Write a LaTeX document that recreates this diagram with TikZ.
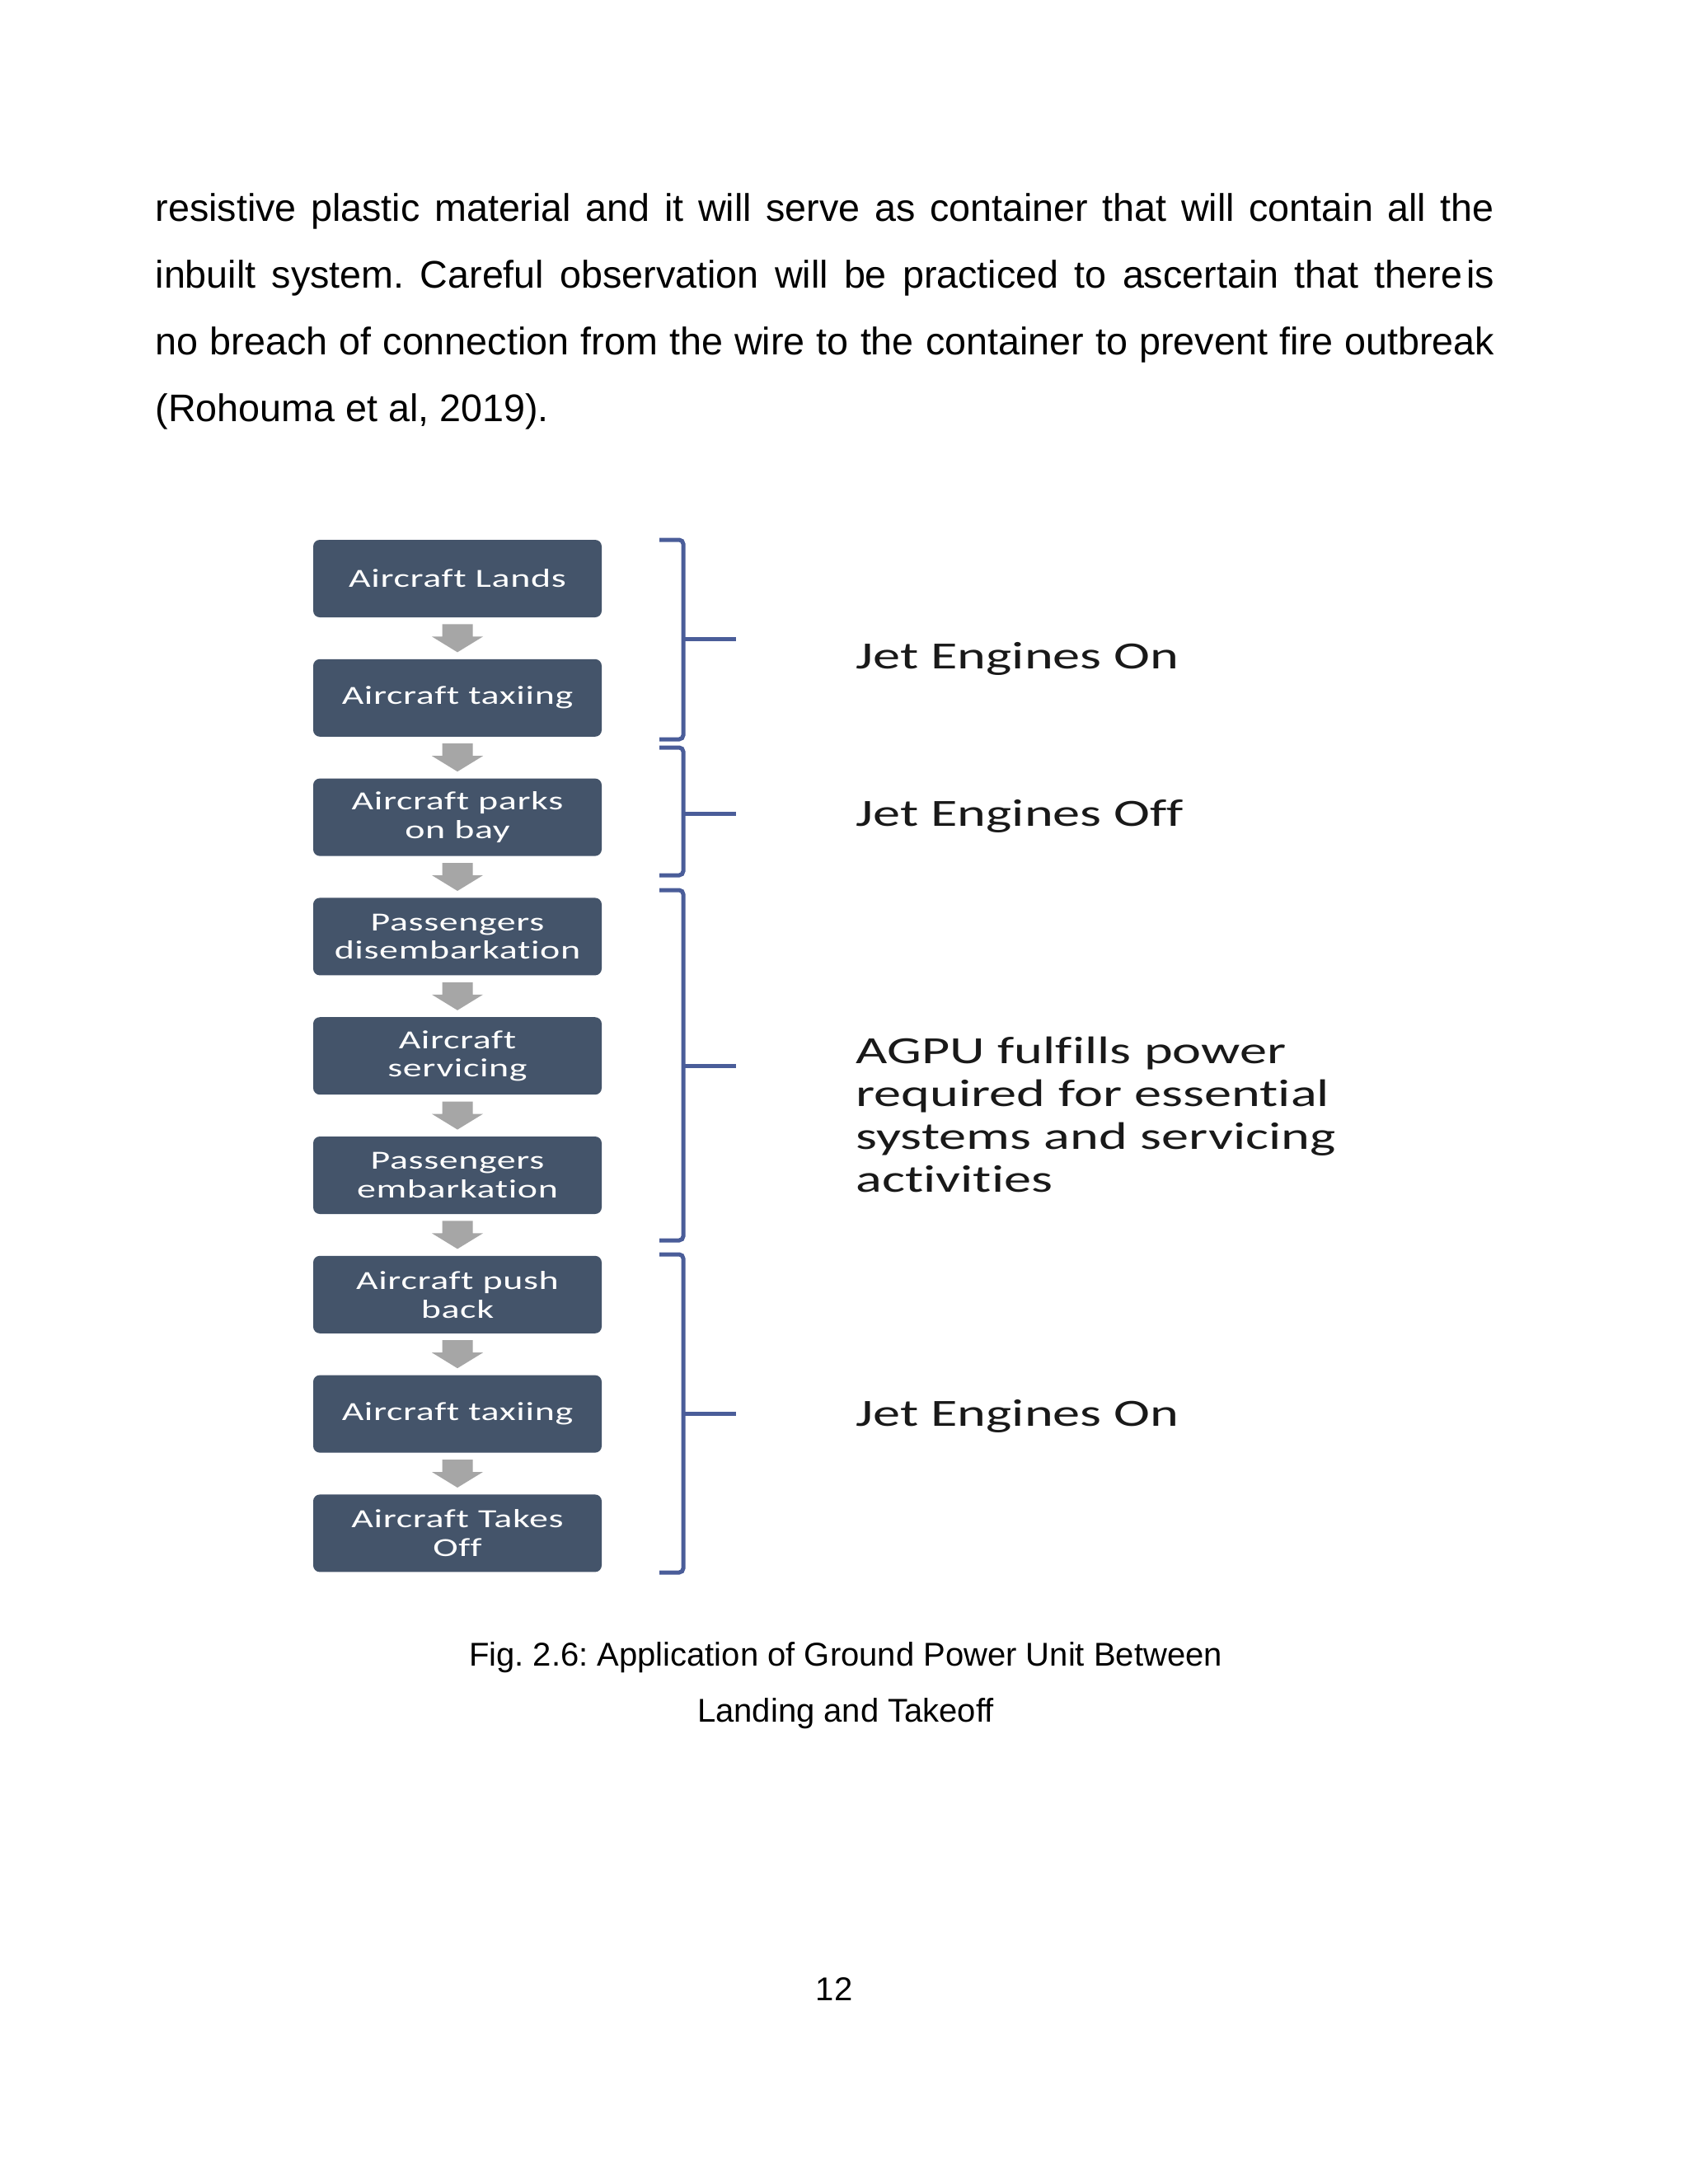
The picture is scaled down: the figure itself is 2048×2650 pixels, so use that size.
\documentclass[tikz,border=0pt]{standalone}
\usepackage{fontspec}
\setmainfont{Liberation Sans}
\newfontfamily\boxfont[FakeStretch=1.45,LetterSpace=2,Ligatures=NoCommon]{Carlito}
\newfontfamily\labfont[FakeStretch=1.42,Ligatures=NoCommon]{Carlito}
\usetikzlibrary{calc}
\definecolor{boxfill}{HTML}{44546A}
\definecolor{arrowgray}{HTML}{A6A6A6}
\definecolor{brackcol}{HTML}{4A5D99}
\def\pxu{0.010539cm}
\frenchspacing
\begin{document}
\begin{tikzpicture}[x=\pxu, y=-\pxu,
  stage/.style={rectangle, rounded corners=2.4pt, fill=boxfill, text=white,
    minimum width={350*\pxu}, minimum height={94*\pxu}, inner sep=0pt, align=center,
    font=\boxfont\fontsize{9.5}{10.4}\selectfont},
  brace/.style={draw=brackcol, line width=1.5pt, rounded corners=1.5pt},
  tick/.style={draw=brackcol, line width=1.5pt},
  phase/.style={anchor=base west, inner sep=0pt, font=\labfont\fontsize{14}{15.6}\selectfont, text=black!90},
  body/.style={anchor=base west, inner sep=0pt, font=\fontsize{14}{16}\selectfont},
  capt/.style={anchor=base, inner sep=0pt, font=\fontsize{12}{14}\selectfont}
]
\fill[white] (0,0) rectangle (2048,2650);
\useasboundingbox (0,0) rectangle (2048,2650);

% body text
\node[body] (p1) at (188,268) {\makebox[17.126cm][s]{resistive plastic material and it will serve as container that will contain all the}};
\node[body] (p2) at (188,349) {\makebox[17.126cm][s]{inbuilt system. Careful observation will be practiced to ascertain that there\kern1.5pt{}is}};
\node[body] (p3) at (188,430) {\makebox[17.126cm][s]{no breach of connection from the wire to the container to prevent fire outbreak}};
\node[body] (p4) at (188,511) {(Rohouma et al, 2019).};

% stages
\node[stage] (b1) at (555,702) {Aircraft Lands};
\node[stage] (b2) at (555,846.8) {Aircraft taxiing};
\node[stage] (b3) at (555,991.6) {Aircraft parks\\on bay};
\node[stage] (b4) at (555,1136.4) {Passengers\\disembarkation};
\node[stage] (b5) at (555,1281.2) {Aircraft\\servicing};
\node[stage] (b6) at (555,1426) {Passengers\\embarkation};
\node[stage] (b7) at (555,1570.8) {Aircraft push\\back};
\node[stage] (b8) at (555,1715.6) {Aircraft taxiing};
\node[stage] (b9) at (555,1860.4) {Aircraft Takes\\Off};

% block arrows between stages
\foreach \a/\b in {b1/b2,b2/b3,b3/b4,b4/b5,b5/b6,b6/b7,b7/b8,b8/b9}{
  \path (\a.south) -- (\b.north) coordinate[midway] (m\a);
  \fill[arrowgray] ($(m\a)+(-18.5,-17)$) -- ++(37,0) -- ++(0,15) -- ++(12.5,0)
    -- ($(m\a)+(0,17)$) -- ($(m\a)+(-31,-2)$) -- ++(12.5,0) -- cycle;
}

% brackets
\draw[brace] (800,655) -- (829,655) -- (829,897) -- (800,897);
\draw[tick] (829,775) -- (893,775);
\draw[brace] (800,907) -- (829,907) -- (829,1062) -- (800,1062);
\draw[tick] (829,987) -- (893,987);
\draw[brace] (800,1080) -- (829,1080) -- (829,1505) -- (800,1505);
\draw[tick] (829,1293) -- (893,1293);
\draw[brace] (800,1522) -- (829,1522) -- (829,1908) -- (800,1908);
\draw[tick] (829,1715) -- (893,1715);

% phase labels
\node[phase] (l1) at (1038,811) {Jet Engines On};
\node[phase] (l2) at (1038,1002) {Jet Engines Off};
\node[phase, text width={800*\pxu}, align=left] (l3) at (1038,1290) {AGPU fulfills power\\required for essential\\systems and servicing\\activities};
\node[phase] (l4) at (1038,1730) {Jet Engines On};

% caption and page number
\node[capt] (c1) at (1026,2021) {Fig. 2.6: Application of Ground Power Unit Between};
\node[capt] (c2) at (1026,2089) {Landing and Takeoff};
\node[capt] (pg) at (1012,2427) {12};
\end{tikzpicture}
\end{document}
